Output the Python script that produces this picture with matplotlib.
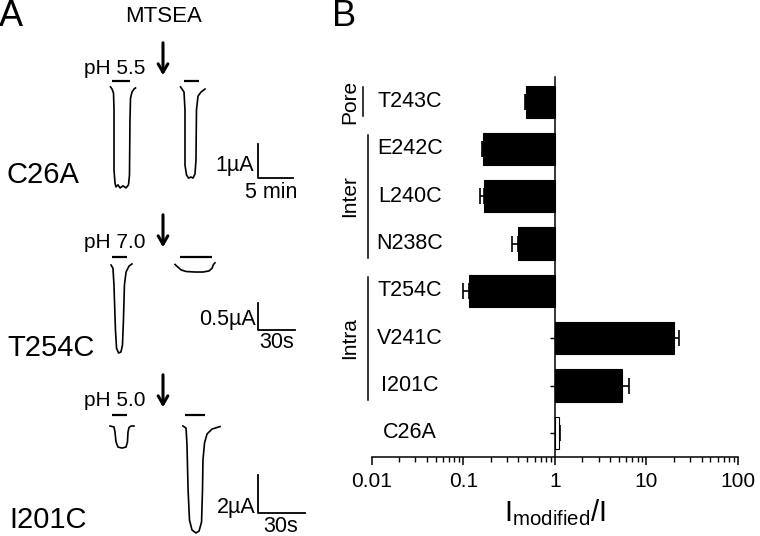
import numpy as np
import matplotlib
matplotlib.use('Agg')
import matplotlib.pyplot as plt
import matplotlib.transforms as mtransforms
from matplotlib.ticker import FuncFormatter

plt.rcParams['font.family'] = ['Liberation Sans', 'DejaVu Sans']
plt.rcParams['mathtext.fontset'] = 'custom'
plt.rcParams['mathtext.rm'] = 'Liberation Sans'
plt.rcParams['mathtext.it'] = 'Liberation Sans:italic'

# ---- panel A traces (time, current in uA) ----
# C26A, time in min
c26a_t1 = [-0.07, 0.14, 0.36, 0.43, 0.43, 0.57, 0.71, 1.0, 1.29, 1.71, 2.14, 2.5, 2.64, 2.71, 2.79, 3.0, 3.29, 3.5]
c26a_i1 = [0.09, 0.03, -0.09, -0.59, -2.35, -2.74, -2.85, -2.79, -2.88, -2.82, -2.88, -2.79, -2.5, -0.88, -0.24, -0.06, 0.03, 0.06]
c26a_t2 = [9.93, 10.14, 10.43, 10.57, 10.57, 10.79, 11.07, 11.43, 11.71, 12.0, 12.14, 12.21, 12.43, 12.86, 13.43]
c26a_i2 = [0.09, 0.03, -0.06, -0.59, -2.21, -2.5, -2.59, -2.56, -2.59, -2.47, -2.06, -0.59, -0.18, -0.06, 0.03]
c26a_ph = [(0.14, 2.71), (10.43, 12.57)]

# T254C, time in s
t254c_t1 = [0, 1.6, 2.4, 3.6, 4.5, 6.1, 8.1, 9.3, 10.1, 10.9, 12.2, 14.6, 17.0]
t254c_i1 = [0, -0.06, -0.37, -1.2, -1.54, -1.63, -1.61, -1.48, -1.02, -0.37, -0.13, -0.02, 0.02]
t254c_t2 = [51.9, 54.3, 56.8, 60.8, 68.1, 74.6, 79.5, 81.9, 83.1, 84.3]
t254c_i2 = [0.01, -0.04, -0.09, -0.12, -0.13, -0.13, -0.11, -0.06, 0.01, 0.04]
t254c_ph = [(0.8, 13.0), (56.0, 81.9)]

# I201C, time in s
i201c_t1 = [-0.64, 1.9, 2.55, 3.19, 4.47, 7.02, 9.57, 10.5, 10.85, 11.5, 12.8, 14.7]
i201c_i1 = [0, -0.05, -0.32, -0.84, -1.11, -1.16, -1.11, -0.84, -0.32, -0.08, 0, 0]
i201c_t2 = [45.9, 47.9, 48.5, 49.2, 50.1, 51.7, 54.2, 56.2, 57.8, 58.4, 58.7, 59.7, 61.3, 64.5, 69.6]
i201c_i2 = [0, -0.11, -1.0, -3.37, -4.95, -5.47, -5.63, -5.53, -5.05, -3.37, -1.79, -0.89, -0.42, -0.16, -0.03]
i201c_ph = [(0.64, 10.2), (47.2, 60.0)]

# ---- panel B ----
mutants = ['T243C', 'E242C', 'L240C', 'N238C', 'T254C', 'V241C', 'I201C', 'C26A']
ratio = np.array([0.49, 0.166, 0.17, 0.396, 0.116, 20.1, 5.39, 1.097])
ratio_err = np.array([0.015, 0.006, 0.017, 0.056, 0.017, 2.7, 1.03, 0.053])
groups = [('Pore', 0, 0), ('Inter', 1, 3), ('Intra', 4, 6)]

W, H = 760, 536
fig = plt.figure(figsize=(7.6, 5.36), dpi=100)

ax0 = fig.add_axes([0, 0, 1, 1])
ax0.set_xlim(0, W)
ax0.set_ylim(H, 0)
ax0.axis('off')


def trace_axes(x0, y0, sx, sy, name):
    # x0, y0: pixel of t=0 / I=0, sx: px per time unit, sy: px per uA
    ax = fig.add_axes([0, 0, 1, 1], label=name)
    ax.set_xlim(-x0 / sx, (W - x0) / sx)
    ax.set_ylim(-(H - y0) / sy, y0 / sy)
    ax.axis('off')
    return ax


rows = [
    # name, x0, y0, sx, sy, traces, ph bars, bar level, scalebar (t, I, dt, dI)
    ('C26A', 111, 90, 7.0, 34.0, [(c26a_t1, c26a_i1), (c26a_t2, c26a_i2)], c26a_ph, 0.26, (21.0, -2.59, 5, 1)),
    ('T254C', 111, 265, 37 / 30, 54.0, [(t254c_t1, t254c_i1), (t254c_t2, t254c_i2)], t254c_ph, 0.15, (119.2, -1.2, 30, 0.5)),
    ('I201C', 111, 426, 47 / 30, 19.0, [(i201c_t1, i201c_i1), (i201c_t2, i201c_i2)], i201c_ph, 0.58, (93.8, -4.58, 30, 2)),
]
for name, x0, y0, sx, sy, traces, ph, lvl, sb in rows:
    ax = trace_axes(x0, y0, sx, sy, name)
    for t, i in traces:
        ax.plot(t, i, color='black', lw=1.2)
    for a, b in ph:
        ax.plot([a, b], [lvl, lvl], color='black', lw=1.6, solid_capstyle='butt')
    st, si, dt, di = sb
    ax.plot([st, st, st + dt], [si + di, si, si], color='black', lw=1.3)

# panel A text
ax0.text(-1, 16, 'A', fontsize=26, ha='left', va='center')
ax0.text(332, 16, 'B', fontsize=26, ha='left', va='center')
ax0.text(164, 16, 'MTSEA', fontsize=16, ha='center', va='center')
for ytop, ybot, lab, yl in [(40, 78, 'pH 5.5', 69), (212, 250, 'pH 7.0', 243), (372, 410, 'pH 5.0', 401)]:
    ax0.annotate('', xy=(163, ybot), xytext=(163, ytop),
                 arrowprops=dict(arrowstyle='->,head_length=0.6,head_width=0.35', lw=2.2, color='black'))
    ax0.text(115, yl, lab, fontsize=15, ha='center', va='center')
ax0.text(7, 175, 'C26A', fontsize=21, ha='left', va='center')
ax0.text(7, 348, 'T254C', fontsize=21, ha='left', va='center')
ax0.text(9, 520, 'I201C', fontsize=21, ha='left', va='center')
ax0.text(254, 165, '1µA', fontsize=15.5, ha='right', va='center')
ax0.text(271, 193, '5 min', fontsize=15.5, ha='center', va='center')
ax0.text(256, 319, '0.5µA', fontsize=15.5, ha='right', va='center')
ax0.text(277, 343, '30s', fontsize=15.5, ha='center', va='center')
ax0.text(256, 507, '2µA', fontsize=15.5, ha='right', va='center')
ax0.text(281, 526, '30s', fontsize=15.5, ha='center', va='center')

# panel B
axb = fig.add_axes([371.7 / W, (H - 457) / H, (738 - 371.7) / W, (457 - 77) / H])
axb.patch.set_visible(False)
axb.set_xscale('log')
axb.set_xlim(0.01, 100)
ypos = np.arange(len(mutants))
axb.set_ylim(7.51, -0.52)
colors = ['black'] * (len(mutants) - 1) + ['white']
axb.barh(ypos, ratio - 1, left=1, height=0.68, color=colors, edgecolor='black', linewidth=0.8, zorder=3)
lower = np.where(ratio < 1, ratio_err, 0)
upper = np.where(ratio >= 1, ratio_err, 0)
axb.errorbar(ratio, ypos, xerr=[lower, upper], fmt='none', ecolor='black',
             elinewidth=1.2, capsize=5.5, capthick=1.2, zorder=2)

for s in ['top', 'right']:
    axb.spines[s].set_visible(False)
axb.spines['left'].set_position(('data', 1))
axb.spines['left'].set_linewidth(1.1)
axb.spines['bottom'].set_linewidth(1.1)
axb.set_yticks(ypos)
axb.set_yticklabels([])
axb.tick_params(axis='y', direction='out', length=3.5, width=1.0)
axb.tick_params(axis='x', which='major', direction='out', length=6, width=1.1, pad=5, labelsize=15)
axb.tick_params(axis='x', which='minor', direction='out', length=3.5, width=1.0)
axb.xaxis.set_major_formatter(FuncFormatter(lambda v, p: f'{v:g}'))
axb.set_xlabel(r'I$_{\mathrm{modified}}$/I', fontsize=21, labelpad=4)

trans = mtransforms.blended_transform_factory(axb.transAxes, axb.transData)
for i, m in enumerate(mutants):
    axb.text(0.104, i, m, transform=trans, ha='center', va='center', fontsize=15.5)
for gname, a, b in groups:
    bx = -0.024 if a == b else -0.010
    axb.plot([bx, bx], [a - 0.3, b + 0.3], transform=trans, color='black', lw=1.1, clip_on=False)
    axb.text(-0.059, (a + b) / 2, gname, transform=trans, rotation=90,
             ha='center', va='center', fontsize=15)

fig.savefig('out.png', dpi=100)
